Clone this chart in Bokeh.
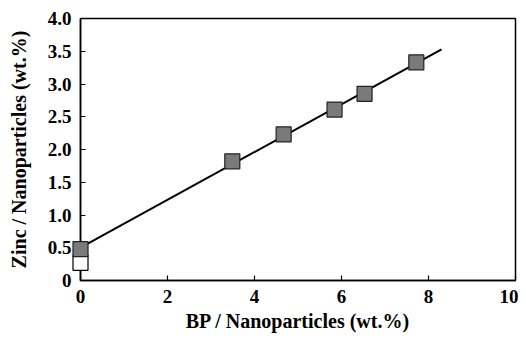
import numpy as np
from bokeh.plotting import figure
from bokeh.models import Range1d, FixedTicker
from bokeh.embed import file_html
from bokeh.resources import INLINE

# Data
bp = [0.0, 3.49, 4.67, 5.84, 6.53, 7.72]
zinc = [0.48, 1.82, 2.23, 2.61, 2.85, 3.33]
bp_ref = [0.0]
zinc_ref = [0.27]
fit_x = [0.0, 8.3]

x_ticks = [0, 2, 4, 6, 8, 10]
y_ticks = [0, 0.5, 1.0, 1.5, 2.0, 2.5, 3.0, 3.5, 4.0]
y_labels = ["0", "0.5", "1.0", "1.5", "2.0", "2.5", "3.0", "3.5", "4.0"]

slope, intercept = np.polyfit(bp, zinc, 1)
fit_y = [intercept + slope * v for v in fit_x]

FONT = "Liberation Serif"

p = figure(
    width=518, height=334,
    min_border_left=80, min_border_right=3, min_border_top=18, min_border_bottom=51,
    x_range=Range1d(0, 10), y_range=Range1d(0, 4),
    output_backend="svg", toolbar_location=None,
)
p.background_fill_color = "white"
p.border_fill_color = "white"
p.outline_line_color = "black"
p.outline_line_width = 1.5
p.grid.visible = False

for ax in (p.xaxis[0], p.yaxis[0]):
    ax.axis_line_color = "black"
    ax.axis_line_width = 1.5
    ax.major_tick_in = 5
    ax.major_tick_out = 0
    ax.minor_tick_line_color = None
    ax.major_tick_line_color = "black"
    ax.major_tick_line_width = 1.2
    ax.major_label_text_font = FONT
    ax.major_label_text_font_style = "bold"
    ax.major_label_text_font_size = "19px"
    ax.major_label_text_color = "black"
    ax.axis_label_text_font = FONT
    ax.axis_label_text_font_style = "bold"
    ax.axis_label_text_font_size = "20px"
    ax.axis_label_text_color = "black"

p.xaxis.ticker = FixedTicker(ticks=x_ticks)
p.yaxis.ticker = FixedTicker(ticks=y_ticks)
p.yaxis.major_label_overrides = {t: l for t, l in zip(y_ticks, y_labels)}
p.xaxis.axis_label = "BP / Nanoparticles (wt.%)"
p.yaxis.axis_label = "Zinc / Nanoparticles (wt.%)"
p.xaxis.major_label_standoff = 9
p.yaxis.major_label_standoff = 9
p.xaxis.axis_label_standoff = 4
p.yaxis.axis_label_standoff = 15

p.line(fit_x, fit_y, line_color="black", line_width=2)
p.scatter(bp_ref, zinc_ref, marker="square", size=15, fill_color="white",
          line_color="black", line_width=1.2, level="overlay")
p.scatter(bp, zinc, marker="square", size=15, fill_color="#7a7a7a",
          line_color="#222222", line_width=1.2, level="overlay")

open("out.html", "w").write(file_html(p, INLINE))
